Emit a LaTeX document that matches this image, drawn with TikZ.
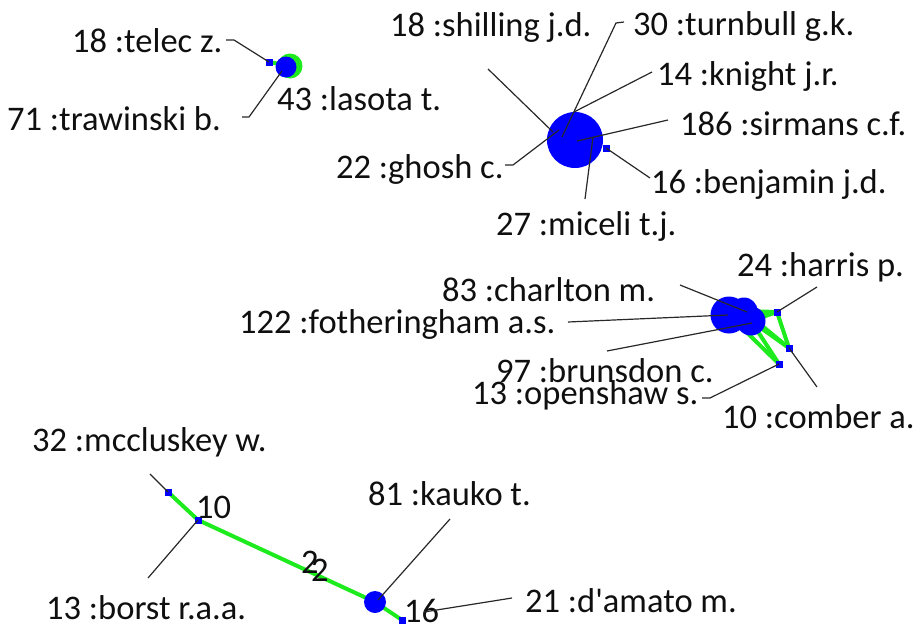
\documentclass[tikz,border=0pt]{standalone}
\usepackage{fontspec}
\setmainfont{Carlito}[Ligatures=TeXOff]
\usetikzlibrary{backgrounds}
\definecolor{nodeblue}{RGB}{0,0,255}
\definecolor{linkgreen}{RGB}{30,235,30}
\definecolor{leadgray}{RGB}{40,40,40}
\definecolor{labelink}{RGB}{15,15,15}
\begin{document}
\begin{tikzpicture}[x=1pt,y=-1pt,
  lbl/.style={anchor=base west,inner sep=0pt,text=labelink,font=\fontsize{34.5}{40}\selectfont},
  lead/.style={draw=leadgray,line width=1.2pt},
  link/.style={draw=linkgreen,line width=4pt},
  author/.style={circle,fill=nodeblue,inner sep=0pt,minimum size=#1},
  halo/.style={circle,fill=linkgreen,inner sep=0pt,minimum size=#1},
  sqnode/.style={rectangle,fill=nodeblue,inner sep=0pt,minimum size=7pt}]
\useasboundingbox (0,0) rectangle (914,627);

% ---------- cluster: telec / trawinski / lasota ----------
\node[halo=25pt] (trawinski) at (290,66) {};
\node[sqnode] (telec) at (269,62) {};
\node[author=21pt] (lasota) at (286,67) {};
\begin{pgfonlayer}{background}
  \draw[link] (telec.center) -- (trawinski.center);
\end{pgfonlayer}

\node[lbl] (Ltelec) at (72,52) {18 :telec z.};
\node[lbl] (Ltraw) at (7,130) {71 :trawinski b.};
\node[lbl] (Llasota) at (277,110) {43 :lasota t.};

\coordinate (aTelec) at (226,40);
\coordinate (bTelec) at (234,40);
\coordinate (aTraw) at (242,117);
\coordinate (bTraw) at (249,117);
\coordinate (cTraw) at (282,71);
\draw[lead] (aTelec) -- (bTelec) -- (telec.center);
\draw[lead] (aTraw) -- (bTraw) -- (cTraw);

% ---------- cluster: sirmans ----------
\node[author=56pt] (sirmans) at (575,140) {};
\node[sqnode] (benjamin) at (606,148) {};

\node[lbl] (Lshill) at (390,36) {18 :shilling j.d.};
\node[lbl] (Lturn) at (633,35) {30 :turnbull g.k.};
\node[lbl] (Lknight) at (657,85) {14 :knight j.r.};
\node[lbl] (Lsirm) at (680,135) {186 :sirmans c.f.};
\node[lbl] (Lghosh) at (336,178) {22 :ghosh c.};
\node[lbl] (Lbenj) at (651,193) {16 :benjamin j.d.};
\node[lbl] (Lmiceli) at (496,235) {27 :miceli t.j.};

\coordinate (aShill) at (488,69);   \coordinate (eShill) at (553,132);
\coordinate (aTurn) at (624,22);    \coordinate (bTurn) at (616,23);  \coordinate (eTurn) at (562,137);
\coordinate (aKnight) at (652,72);  \coordinate (eKnight) at (574,112);
\coordinate (aSirm) at (668,120);   \coordinate (eSirm) at (577,141);
\coordinate (aBenj) at (650,178);
\coordinate (aGhosh) at (505,165);  \coordinate (bGhosh) at (513,165); \coordinate (eGhosh) at (559,130);
\coordinate (aMic) at (585,199);    \coordinate (eMic) at (593,137);
\draw[lead] (aShill) -- (eShill);
\draw[lead] (aTurn) -- (bTurn) -- (eTurn);
\draw[lead] (aKnight) -- (eKnight);
\draw[lead] (aSirm) -- (eSirm);
\draw[lead] (aBenj) -- (benjamin.center);
\draw[lead] (aGhosh) -- (bGhosh) -- (eGhosh);
\draw[lead] (aMic) -- (eMic);

% ---------- cluster: fotheringham / charlton / brunsdon ----------
\node[author=37pt] (foth) at (729,315) {};
\node[author=27pt] (charlton) at (744,311) {};
\node[author=29pt] (brunsdon) at (751,321) {};
\node[sqnode] (harris) at (777,312) {};
\node[sqnode] (comber) at (789,348) {};
\node[sqnode] (openshaw) at (779,364) {};
\begin{pgfonlayer}{background}
  \draw[link] (charlton.center) -- (harris.center);
  \draw[link] (brunsdon.center) -- (harris.center);
  \draw[link] (foth.center) -- (harris.center);
  \draw[link] (harris.center) -- (comber.center);
  \draw[link] (brunsdon.center) -- (comber.center);
  \draw[link] (charlton.center) -- (comber.center);
  \draw[link] (brunsdon.center) -- (openshaw.center);
  \draw[link] (foth.center) -- (openshaw.center);
\end{pgfonlayer}

\node[lbl] (Lharris) at (737,276) {24 :harris p.};
\node[lbl] (Lcharl) at (442,301) {83 :charlton m.};
\node[lbl] (Lfoth) at (239,333) {122 :fotheringham a.s.};
\node[lbl] (Lbruns) at (496,382) {97 :brunsdon c.};
\node[lbl] (Lopen) at (472,404) {13 :openshaw s.};
\node[lbl] (Lcomb) at (722,428) {10 :comber a.};

\coordinate (aCharl) at (680,285);  \coordinate (eCharl) at (747,312);
\coordinate (aFoth) at (568,322);   \coordinate (eFoth) at (728,315);
\coordinate (aBruns) at (607,351);  \coordinate (eBruns) at (752,323);
\coordinate (aHarris) at (817,287);
\coordinate (aComb) at (817,387);
\coordinate (aOpen) at (702,398);   \coordinate (bOpen) at (710,398);
\draw[lead] (aCharl) -- (eCharl);
\draw[lead] (aFoth) -- (eFoth);
\draw[lead] (aBruns) -- (eBruns);
\draw[lead] (aHarris) -- (harris.center);
\draw[lead] (aComb) -- (comber.center);
\draw[lead] (aOpen) -- (bOpen) -- (openshaw.center);

% ---------- cluster: mccluskey / borst / kauko / d'amato ----------
\node[sqnode] (mccl) at (168,492) {};
\node[sqnode] (borst) at (198,520) {};
\node[author=22pt] (kauko) at (375,602) {};
\node[sqnode] (damato) at (402,620) {};
\begin{pgfonlayer}{background}
  \draw[link] (mccl.center) -- (borst.center) -- (kauko.center) -- (damato.center);
\end{pgfonlayer}

\node[lbl] (Lmccl) at (32,451) {32 :mccluskey w.};
\node[lbl] (Lborst) at (46,619) {13 :borst r.a.a.};
\node[lbl] (Lkauko) at (368,505) {81 :kauko t.};
\node[lbl] (Ldam) at (525,612) {21 :d'amato m.};

% edge weights
\node[lbl] (w10) at (196,518) {10};
\node[lbl] (w2a) at (301,573) {2};
\node[lbl] (w2b) at (311,581) {2};
\node[lbl] (w16) at (404,622) {16};

\coordinate (aMccl) at (150,474);
\coordinate (aBorst) at (148,578);
\coordinate (aKauko) at (450,519);  \coordinate (eKauko) at (378,600);
\coordinate (aDam) at (512,598);    \coordinate (eDam) at (424,612);
\draw[lead] (aMccl) -- (mccl.center);
\draw[lead] (aBorst) -- (borst.center);
\draw[lead] (aKauko) -- (eKauko);
\draw[lead] (aDam) -- (eDam);
\end{tikzpicture}
\end{document}
